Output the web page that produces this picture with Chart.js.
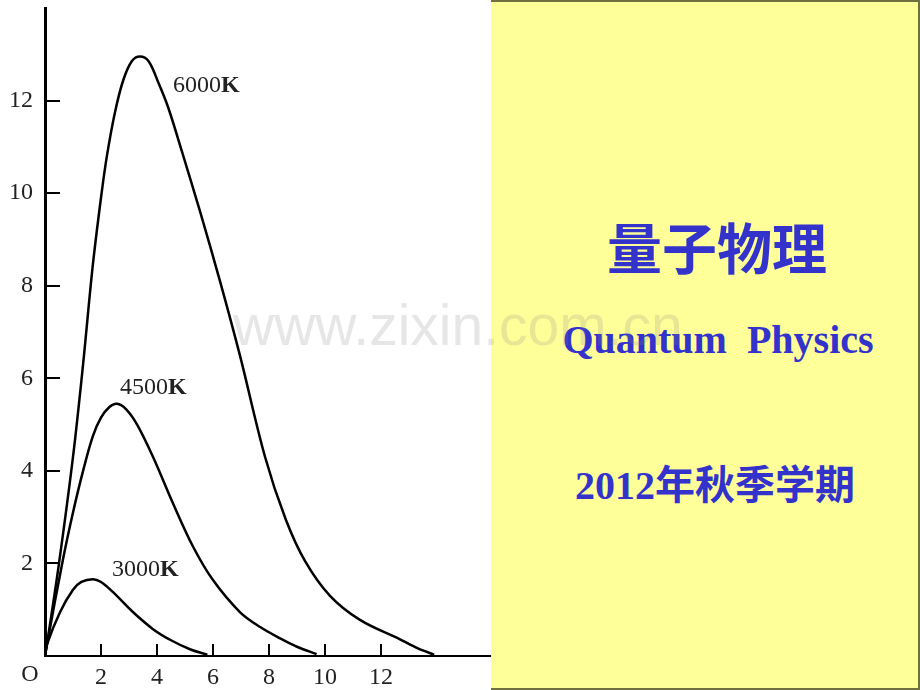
<!DOCTYPE html>
<html>
<head>
<meta charset="utf-8">
<script src="https://cdn.jsdelivr.net/npm/chart.js@4/dist/chart.umd.min.js"></script>
<style>
  html, body { margin: 0; padding: 0; background: #fff; width: 920px; height: 690px; overflow: hidden; }
  #wrap { position: absolute; left: 0; top: 0; width: 491px; height: 690px; }
  #panel { position: absolute; left: 491px; top: 0; width: 427px; height: 686px; background: #FFFF99;
           border-top: 2px solid #6f6f3f; border-right: 2px solid #6f6f3f; border-bottom: 2px solid #6f6f3f; }
  .t { position: absolute; color: #3333CC; font-weight: bold; text-align: center; white-space: pre; }
  #title { left: 517px; width: 400px; top: 218px; font: bold 55px/55px "Noto Sans CJK SC", sans-serif; }
  #sub { left: 518px; width: 400px; top: 320px; font: bold 40px/40px "Liberation Serif", serif; }
  #term { left: 515px; width: 400px; top: 466px; font: bold 40px/40px "Liberation Serif", "Noto Sans CJK SC", serif; }
  #wm { position: absolute; left: 233px; top: 297px; font: 57px/57px "Liberation Sans", sans-serif;
        color: rgba(128,128,128,0.2); white-space: pre; }
</style>
</head>
<body>
<div id="wrap"><canvas id="c" width="491" height="690"></canvas></div>
<div id="panel"></div>
<div class="t" id="title">量子物理</div>
<div class="t" id="sub">Quantum  Physics</div>
<div class="t" id="term">2012年秋季学期</div>
<div id="wm">www.zixin.com.cn</div>
<script>
// Series values (x: frequency units, y: radiant intensity)
const x6000 = [0, 0.07, 0.5, 1.0, 1.36, 1.7, 2.0, 2.21, 2.5, 2.8, 3.1, 3.39, 3.7, 4.04, 4.4, 4.89, 5.54, 6.25, 6.96, 7.86, 8.6, 9.29, 10.18, 11.25, 12.68, 13.3, 13.9];
const y6000 = [0, 0.25, 2.0, 4.3, 6.3, 8.4, 9.9, 10.8, 11.75, 12.45, 12.85, 12.95, 12.85, 12.4, 11.85, 10.9, 9.6, 8.1, 6.5, 4.3, 2.95, 2.05, 1.3, 0.78, 0.36, 0.17, 0.03];
const x4500 = [0, 0.07, 0.64, 1.0, 1.36, 1.71, 2.0, 2.3, 2.57, 2.9, 3.29, 3.86, 4.57, 5.29, 6.0, 6.96, 7.7, 8.4, 9.0, 9.7];
const y4500 = [0, 0.25, 2.08, 3.1, 4.0, 4.75, 5.15, 5.38, 5.45, 5.33, 5.0, 4.3, 3.3, 2.36, 1.64, 0.95, 0.62, 0.38, 0.2, 0.04];
const x3000 = [0, 0.07, 0.54, 1.0, 1.3, 1.71, 2.0, 2.43, 3.14, 3.86, 4.5, 5.2, 5.8];
const y3000 = [0, 0.25, 0.95, 1.43, 1.6, 1.66, 1.6, 1.38, 0.95, 0.58, 0.34, 0.14, 0.03];
const seriesNames = ["6000", "4500", "3000"];
const labelAnchorX = [4.57, 2.68, 2.39];
const labelAnchorY = [12.32, 5.80, 1.86];
const xTickValues = [2, 4, 6, 8, 10, 12];
const yTickValues = [2, 4, 6, 8, 10, 12];
const originLabel = "O";

function pts(xs, ys) { return xs.map((x, i) => ({ x: x, y: ys[i] })); }

const serif = '"Liberation Serif", "Times New Roman", serif';

const decor = {
  id: 'decor',
  afterDatasetsDraw(chart) {
    const ctx = chart.ctx, xs = chart.scales.x, ys = chart.scales.y, a = chart.chartArea;
    ctx.save();
    ctx.strokeStyle = '#000';
    ctx.lineWidth = 2;
    xTickValues.forEach(v => {
      const px = Math.round(xs.getPixelForValue(v));
      ctx.beginPath(); ctx.moveTo(px, a.bottom); ctx.lineTo(px, a.bottom - 12); ctx.stroke();
    });
    yTickValues.forEach(v => {
      const py = Math.round(ys.getPixelForValue(v));
      ctx.beginPath(); ctx.moveTo(a.left, py); ctx.lineTo(a.left + 15, py); ctx.stroke();
    });
    ctx.fillStyle = '#222';
    ctx.font = '24px ' + serif;
    ctx.textAlign = 'center';
    ctx.textBaseline = 'middle';
    ctx.fillText(originLabel, xs.getPixelForValue(0) - 15, a.bottom + 19);
    ctx.textAlign = 'left';
    seriesNames.forEach((n, i) => {
      const px = xs.getPixelForValue(labelAnchorX[i]);
      const py = ys.getPixelForValue(labelAnchorY[i]);
      ctx.font = '24px ' + serif;
      ctx.fillText(n, px, py);
      const w = ctx.measureText(n).width;
      ctx.font = 'bold 24px ' + serif;
      ctx.fillText('K', px + w, py);
    });
    ctx.restore();
  }
};

const lineStyle = { borderColor: '#000', borderWidth: 2.5, pointRadius: 0, showLine: true, fill: false, tension: 0.35 };

function noPad(s) { s.paddingTop = 0; s.paddingBottom = 0; s.paddingLeft = 0; s.paddingRight = 0; }

new Chart(document.getElementById('c'), {
  type: 'scatter',
  data: {
    datasets: [
      Object.assign({ label: '6000K', data: pts(x6000, y6000) }, lineStyle),
      Object.assign({ label: '4500K', data: pts(x4500, y4500) }, lineStyle),
      Object.assign({ label: '3000K', data: pts(x3000, y3000) }, lineStyle)
    ]
  },
  options: {
    responsive: false,
    animation: false,
    layout: { padding: { top: 8, left: 0, right: 0, bottom: 0 } },
    plugins: { legend: { display: false }, tooltip: { enabled: false } },
    scales: {
      x: {
        type: 'linear', min: 0, max: 15.93,
        grid: { display: false, drawTicks: false },
        border: { display: true, color: '#000', width: 2 },
        ticks: {
          stepSize: 2, padding: 7, color: '#222', maxRotation: 0, autoSkip: false,
          font: { family: serif, size: 24 },
          callback: v => xTickValues.includes(v) ? String(v) : ''
        },
        afterFit: s => { s.height = 34; noPad(s); }
      },
      y: {
        type: 'linear', min: 0, max: 14,
        grid: { display: false, drawTicks: false },
        border: { display: true, color: '#000', width: 3 },
        ticks: {
          stepSize: 2, padding: 12, color: '#222',
          font: { family: serif, size: 24 },
          callback: v => yTickValues.includes(v) ? String(v) : ''
        },
        afterFit: s => { s.width = 45; noPad(s); }
      }
    }
  },
  plugins: [decor]
});
</script>
</body>
</html>
